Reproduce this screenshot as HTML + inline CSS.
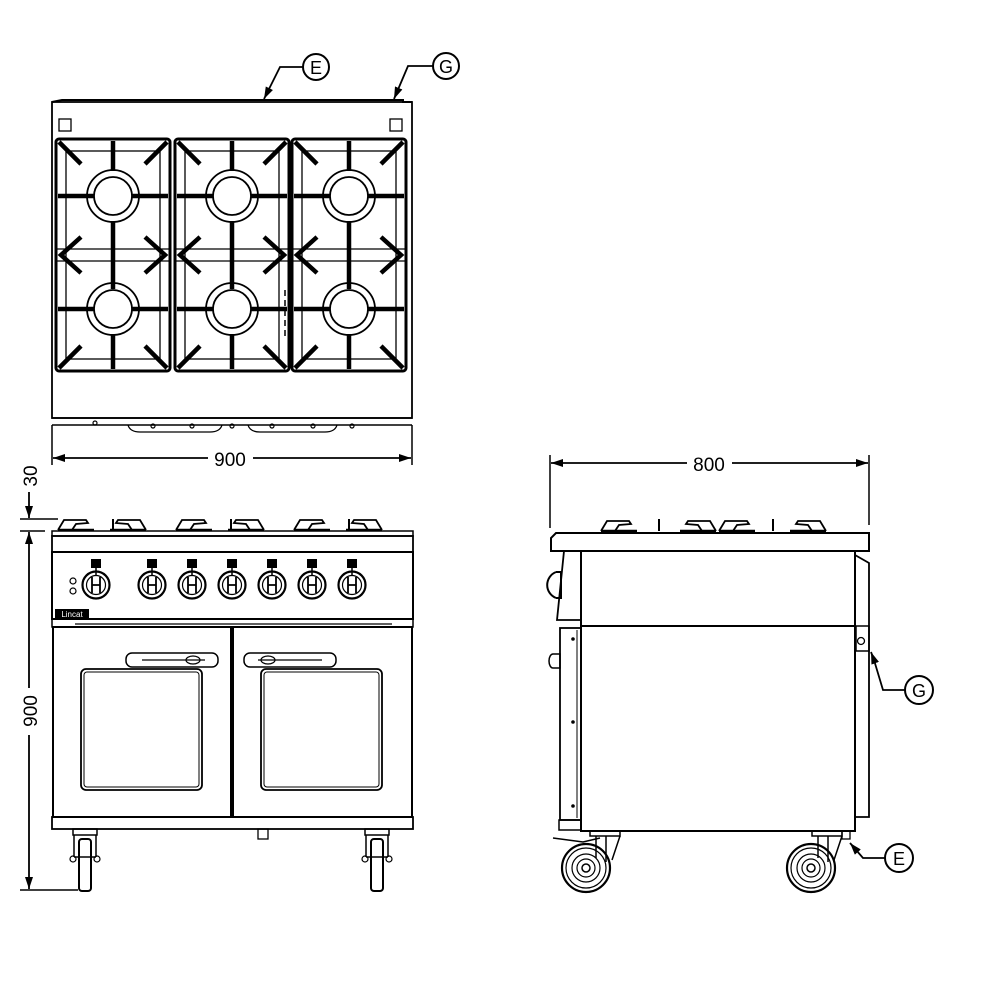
<!DOCTYPE html>
<html><head><meta charset="utf-8"><style>html,body{margin:0;padding:0;background:#fff}svg{display:block}</style></head>
<body>
<svg width="1000" height="1000" viewBox="0 0 1000 1000" xmlns="http://www.w3.org/2000/svg" font-family="Liberation Sans, sans-serif" fill="none" stroke="#000">
<defs>
<g id="burner">
  <circle r="26" stroke-width="1.8"/><circle r="19" stroke-width="1.8"/>
</g>
<g id="grate">
  <rect x="0" y="0" width="114" height="232" rx="3" stroke-width="3"/>
  <rect x="10" y="12" width="94" height="208" stroke-width="1.3"/>
  <line x1="0" y1="110" x2="114" y2="110" stroke-width="1.2"/>
  <line x1="0" y1="122" x2="114" y2="122" stroke-width="1.2"/>
  <use href="#burner" x="57" y="57"/>
  <use href="#burner" x="57" y="170"/>
  <g stroke-width="4.5">
    <line x1="57" y1="2" x2="57" y2="32"/>
    <line x1="2" y1="57" x2="38" y2="57"/><line x1="76" y1="57" x2="112" y2="57"/>
    <line x1="57" y1="82" x2="57" y2="150"/>
    <line x1="2" y1="170" x2="38" y2="170"/><line x1="76" y1="170" x2="112" y2="170"/>
    <line x1="57" y1="195" x2="57" y2="230"/>
    <line x1="3" y1="3" x2="25" y2="25"/><line x1="111" y1="3" x2="89" y2="25"/>
    <line x1="3" y1="229" x2="25" y2="207"/><line x1="111" y1="229" x2="89" y2="207"/>
    <polyline points="25,98 5,116 25,134"/><polyline points="89,98 109,116 89,134"/>
  </g>
</g>
<g id="knob">
  <circle r="13.5" stroke-width="2.2"/><circle r="9.5" stroke-width="1.2"/>
  <path d="M-4,-8 V8 M4,-8 V8 M-4,0 H4" stroke-width="1.8"/>
  <rect x="-5" y="-26" width="10" height="9" fill="#000" stroke="none"/>
  <line x1="0" y1="-17" x2="0" y2="-10" stroke-width="1.5"/>
</g>
<g id="pan">
  <path d="M0,12 L6,2 H28 L30,5 L18,6 L14,12" stroke-width="1.8"/>
  <path d="M0,12 H36" stroke-width="2.5"/>
</g>
<g id="panr">
  <path d="M36,12 L30,2 H8 L6,5 L18,6 L22,12" stroke-width="1.8"/>
  <path d="M0,12 H36" stroke-width="2.5"/>
</g>
<g id="wheel">
  <circle r="24" stroke-width="2.2"/><circle r="20" stroke-width="1.2"/><circle r="14" stroke-width="1.2"/><circle r="9" stroke-width="1.2"/><circle r="4" stroke-width="1.5"/>
</g>
<g id="fcaster">
  <rect x="-12" y="0" width="24" height="6" stroke-width="1.5"/>
  <path d="M-11,6 V28 M11,6 V28 M-11,28 H11" stroke-width="1.5"/>
  <rect x="-6" y="10" width="12" height="52" rx="3" stroke-width="2"/>
  <circle cx="-12" cy="30" r="3" stroke-width="1.2"/><circle cx="12" cy="30" r="3" stroke-width="1.2"/>
</g>
<marker id="ar" markerWidth="12" markerHeight="8" refX="12" refY="4" orient="auto" markerUnits="userSpaceOnUse"><path d="M0,0 L12,4 L0,8 Z" fill="#000" stroke="none"/></marker>
</defs>

<!-- ================= TOP VIEW ================= -->
<path d="M52,102 L62,100 H403 V102 H412" stroke-width="2"/>
<rect x="52" y="102" width="360" height="316" stroke-width="1.8"/>
<line x1="52" y1="418" x2="412" y2="418" stroke-width="1.5"/>
<line x1="52" y1="425" x2="412" y2="425" stroke-width="1.5"/>
<rect x="59" y="119" width="12" height="12" stroke-width="1.3"/>
<rect x="390" y="119" width="12" height="12" stroke-width="1.3"/>
<use href="#grate" x="56" y="139"/>
<use href="#grate" x="175" y="139"/>
<use href="#grate" x="292" y="139"/>
<path d="M285,290 V338" stroke-width="1.5" stroke-dasharray="6,4"/>
<path d="M128,425 Q130,432 140,432 H210 Q220,432 222,425 M248,425 Q250,432 260,432 H325 Q335,432 337,425" stroke-width="1.3"/>
<g stroke-width="1.2"><circle cx="95" cy="423" r="2"/><circle cx="153" cy="426" r="2"/><circle cx="192" cy="426" r="2"/><circle cx="232" cy="426" r="2"/><circle cx="272" cy="426" r="2"/><circle cx="313" cy="426" r="2"/><circle cx="352" cy="426" r="2"/></g>
<!-- 900 dim -->
<line x1="52" y1="425" x2="52" y2="465" stroke-width="1.5"/>
<line x1="412" y1="425" x2="412" y2="465" stroke-width="1.5"/>
<line x1="208" y1="458" x2="53" y2="458" stroke-width="1.8" marker-end="url(#ar)"/>
<line x1="253" y1="458" x2="411" y2="458" stroke-width="1.8" marker-end="url(#ar)"/>
<text x="230" y="466" font-size="19" fill="#000" stroke="none" text-anchor="middle">900</text>
<!-- callouts top -->
<circle cx="316" cy="67" r="13" stroke-width="2"/>
<text x="316" y="74" font-size="18" fill="#000" stroke="none" text-anchor="middle">E</text>
<polyline points="303,67 280,67 264,99" stroke-width="1.8" marker-end="url(#ar)"/>
<circle cx="446" cy="66" r="13" stroke-width="2"/>
<text x="446" y="73" font-size="18" fill="#000" stroke="none" text-anchor="middle">G</text>
<polyline points="433,66 408,66 394,99" stroke-width="1.8" marker-end="url(#ar)"/>

<!-- ================= FRONT VIEW ================= -->
<use href="#pan" x="58" y="518"/><use href="#panr" x="110" y="518"/>
<use href="#pan" x="176" y="518"/><use href="#panr" x="228" y="518"/>
<use href="#pan" x="294" y="518"/><use href="#panr" x="346" y="518"/>
<g stroke-width="2"><line x1="113" y1="519" x2="113" y2="530"/><line x1="231" y1="519" x2="231" y2="530"/><line x1="349" y1="519" x2="349" y2="530"/></g>
<rect x="52" y="531" width="361" height="5" stroke-width="1.5"/>
<rect x="52" y="536" width="361" height="16" stroke-width="1.8"/>
<rect x="52" y="552" width="361" height="67" stroke-width="2"/>
<rect x="52" y="619" width="361" height="8" stroke-width="1.5"/>
<line x1="75" y1="624" x2="392" y2="624" stroke-width="1.2"/>
<circle cx="73" cy="581" r="3" stroke-width="1.2"/><circle cx="73" cy="591" r="3" stroke-width="1.2"/>
<use href="#knob" x="96" y="585"/>
<use href="#knob" x="152" y="585"/><use href="#knob" x="192" y="585"/><use href="#knob" x="232" y="585"/>
<use href="#knob" x="272" y="585"/><use href="#knob" x="312" y="585"/><use href="#knob" x="352" y="585"/>
<rect x="55" y="609" width="34" height="9" fill="#000" stroke="none"/>
<text x="72" y="617" font-size="8" fill="#fff" stroke="none" text-anchor="middle">Lincat</text>
<!-- doors -->
<rect x="53" y="627" width="178" height="190" stroke-width="2"/>
<rect x="233" y="627" width="179" height="190" stroke-width="2"/>
<rect x="126" y="653" width="92" height="14" rx="6" stroke-width="1.5"/>
<line x1="142" y1="660" x2="205" y2="660" stroke-width="1.2"/>
<ellipse cx="193" cy="660" rx="7" ry="4" stroke-width="1.2"/>
<rect x="244" y="653" width="92" height="14" rx="6" stroke-width="1.5"/>
<line x1="258" y1="660" x2="322" y2="660" stroke-width="1.2"/>
<ellipse cx="268" cy="660" rx="7" ry="4" stroke-width="1.2"/>
<rect x="81" y="669" width="121" height="121" rx="5" stroke-width="1.8"/>
<rect x="84" y="672" width="115" height="115" rx="3" stroke-width="1"/>
<rect x="261" y="669" width="121" height="121" rx="5" stroke-width="1.8"/>
<rect x="264" y="672" width="115" height="115" rx="3" stroke-width="1"/>
<rect x="52" y="817" width="361" height="12" stroke-width="1.8"/>
<rect x="258" y="829" width="10" height="10" stroke-width="1.3"/>
<use href="#fcaster" x="85" y="829"/>
<use href="#fcaster" x="377" y="829"/>
<!-- vertical dims -->
<line x1="20" y1="519" x2="58" y2="519" stroke-width="1.5"/>
<line x1="20" y1="531" x2="45" y2="531" stroke-width="1.5"/>
<line x1="20" y1="890" x2="78" y2="890" stroke-width="1.5"/>
<line x1="29" y1="492" x2="29" y2="518" stroke-width="1.8" marker-end="url(#ar)"/>
<line x1="29" y1="548" x2="29" y2="532" stroke-width="1.8" marker-end="url(#ar)"/>
<line x1="29" y1="548" x2="29" y2="688" stroke-width="1.8"/>
<line x1="29" y1="735" x2="29" y2="889" stroke-width="1.8" marker-end="url(#ar)"/>
<text transform="translate(37,476) rotate(-90)" font-size="19" fill="#000" stroke="none" text-anchor="middle">30</text>
<text transform="translate(37,711) rotate(-90)" font-size="19" fill="#000" stroke="none" text-anchor="middle">900</text>

<!-- ================= SIDE VIEW ================= -->
<line x1="550" y1="455" x2="550" y2="528" stroke-width="1.5"/>
<line x1="869" y1="455" x2="869" y2="525" stroke-width="1.5"/>
<line x1="687" y1="463" x2="551" y2="463" stroke-width="1.8" marker-end="url(#ar)"/>
<line x1="732" y1="463" x2="868" y2="463" stroke-width="1.8" marker-end="url(#ar)"/>
<text x="709" y="471" font-size="19" fill="#000" stroke="none" text-anchor="middle">800</text>
<use href="#pan" x="601" y="519"/><use href="#panr" x="680" y="519"/>
<use href="#pan" x="719" y="519"/><use href="#panr" x="790" y="519"/>
<g stroke-width="2"><line x1="659" y1="519" x2="659" y2="531"/><line x1="773" y1="519" x2="773" y2="531"/></g>
<path d="M556,533 H869 V551 H551 V538 Z" stroke-width="2"/>
<rect x="581" y="551" width="274" height="75" stroke-width="2"/>
<rect x="581" y="626" width="274" height="205" stroke-width="2"/>
<path d="M564,551 H581 V620 H557 Z" stroke-width="1.8"/>
<path d="M556,572 A14,14 0 0,0 556,598 M556,572 H561 V598 H556" stroke-width="2"/>
<path d="M855,555 L869,563 V817 H855" stroke-width="1.8"/>
<rect x="856" y="626" width="13" height="25" stroke-width="1.5"/>
<circle cx="861" cy="641" r="3.5" stroke-width="1.3"/>
<rect x="560" y="628" width="21" height="192" stroke-width="1.8"/>
<rect x="559" y="820" width="22" height="10" stroke-width="1.5"/>
<line x1="577" y1="630" x2="577" y2="818" stroke-width="1"/>
<circle cx="573" cy="639" r="1.3" fill="#000"/><circle cx="573" cy="722" r="1.3" fill="#000"/><circle cx="573" cy="806" r="1.3" fill="#000"/>
<path d="M553,654 H560 V668 H553 A4,7 0 0,1 553,654" stroke-width="1.5"/>
<!-- casters -->
<rect x="590" y="831" width="30" height="5" stroke-width="1.5"/>
<path d="M596,836 V858 M606,836 V862 M620,836 L612,860" stroke-width="1.5"/>
<path d="M553,838 L583,842 L600,838" stroke-width="1.5"/>
<use href="#wheel" x="586" y="868"/>
<rect x="812" y="831" width="30" height="5" stroke-width="1.5"/>
<path d="M818,836 V858 M828,836 V862 M842,836 L834,860" stroke-width="1.5"/>
<rect x="842" y="831" width="8" height="8" stroke-width="1.3"/>
<use href="#wheel" x="811" y="868"/>
<!-- callouts side -->
<circle cx="919" cy="690" r="14" stroke-width="2"/>
<text x="919" y="697" font-size="18" fill="#000" stroke="none" text-anchor="middle">G</text>
<polyline points="905,690 883,690 874,660 871,652" stroke-width="1.8" marker-end="url(#ar)"/>
<circle cx="899" cy="858" r="14" stroke-width="2"/>
<text x="899" y="865" font-size="18" fill="#000" stroke="none" text-anchor="middle">E</text>
<polyline points="885,858 863,858 850,843" stroke-width="1.8" marker-end="url(#ar)"/>
</svg>
</body></html>
